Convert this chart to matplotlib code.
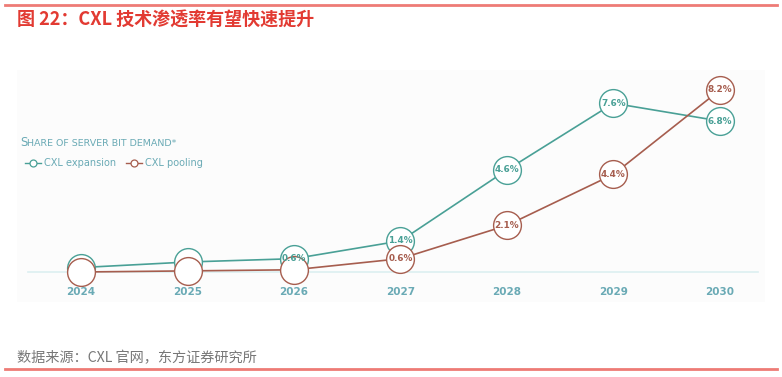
import matplotlib
matplotlib.use("Agg")
import matplotlib.pyplot as plt
from matplotlib.lines import Line2D

plt.rcParams['font.family'] = ['DejaVu Sans', 'Noto Sans CJK SC']

# data
years = ["2024", "2025", "2026", "2027", "2028", "2029", "2030"]
cxl_expansion = [0.2, 0.45, 0.6, 1.4, 4.6, 7.6, 6.8]
cxl_pooling = [0.0, 0.05, 0.1, 0.6, 2.1, 4.4, 8.2]
expansion_labels = ["", "", "0.6%", "1.4%", "4.6%", "7.6%", "6.8%"]
pooling_labels = ["", "", "", "0.6%", "2.1%", "4.4%", "8.2%"]

title = "图 22：CXL 技术渗透率有望快速提升"
source = "数据来源：CXL 官网，东方证券研究所"

TEAL = "#49a096"
BROWN = "#a65d4e"
AXIS_TXT = "#6aaab5"
RED = "#e23a32"

W, H = 782, 377
fig = plt.figure(figsize=(W / 100, H / 100), dpi=100)
fig.patch.set_facecolor("white")


def px(x, y):
    return x / W, 1 - y / H


# red rules top and bottom
fig.add_artist(Line2D([5 / W, 777 / W], [1 - 5 / H, 1 - 5 / H], color="#ee7b76", lw=2))
fig.add_artist(Line2D([5 / W, 777 / W], [1 - 369 / H, 1 - 369 / H], color="#ee7b76", lw=2))

fig.text(*px(17, 20), title, color=RED, fontsize=13, fontweight="bold",
         va="center", ha="left", family=["Noto Sans CJK SC"])
fig.text(*px(17, 358), source, color="#777777", fontsize=10.2,
         va="center", ha="left", family=["Noto Sans CJK SC"])

# chart panel
left, right, top, bottom = 17, 765, 70, 302
ax = fig.add_axes([left / W, 1 - bottom / H, (right - left) / W, (bottom - top) / H])
ax.set_facecolor("#fcfcfc")
for s in ax.spines.values():
    s.set_visible(False)
ax.set_xticks([])
ax.set_yticks([])

x0, dx = 81, 106.5
ppu = 22.2
base = 272
ax.set_xlim((left - x0) / dx, (right - x0) / dx)
ax.set_ylim((base - bottom) / ppu, (base - top) / ppu)

xs = list(range(len(years)))
ax.axhline(0, xmin=0.015, xmax=0.99, color="#dceff1", lw=1.2, zorder=1)

for vals, labs, col in [(cxl_expansion, expansion_labels, TEAL),
                        (cxl_pooling, pooling_labels, BROWN)]:
    ax.plot(xs, vals, color=col, lw=1.2, marker="o", ms=20, mfc="white",
            mec=col, mew=1.0, zorder=3)
    for x, v, lab in zip(xs, vals, labs):
        if lab:
            ax.text(x, v, lab, color=col, fontsize=6.4, fontweight="bold",
                    ha="center", va="center", zorder=4)

for x, yr in zip(xs, years):
    ax.text(x, (base - 292) / ppu, yr, color=AXIS_TXT, fontsize=7.5,
            fontweight="bold", ha="center", va="center")

# heading and legend inside the panel
fig.text(*px(20, 143), "S", color=AXIS_TXT, fontsize=8.5, va="center", ha="left")
fig.text(*px(27, 143.5), "HARE OF SERVER BIT DEMAND*", color=AXIS_TXT, fontsize=6.8,
         va="center", ha="left")

for lx, name, col in [(25, "CXL expansion", TEAL), (126, "CXL pooling", BROWN)]:
    fig.add_artist(Line2D([lx / W, (lx + 16) / W], [1 - 163 / H] * 2, color=col, lw=1))
    fig.add_artist(Line2D([(lx + 8) / W], [1 - 163 / H], marker="o", ms=5,
                          mfc="white", mec=col, mew=0.9))
    fig.text(*px(lx + 19, 163), name, color=AXIS_TXT, fontsize=7,
             va="center", ha="left")

fig.savefig("out.png", dpi=100, facecolor="white")
